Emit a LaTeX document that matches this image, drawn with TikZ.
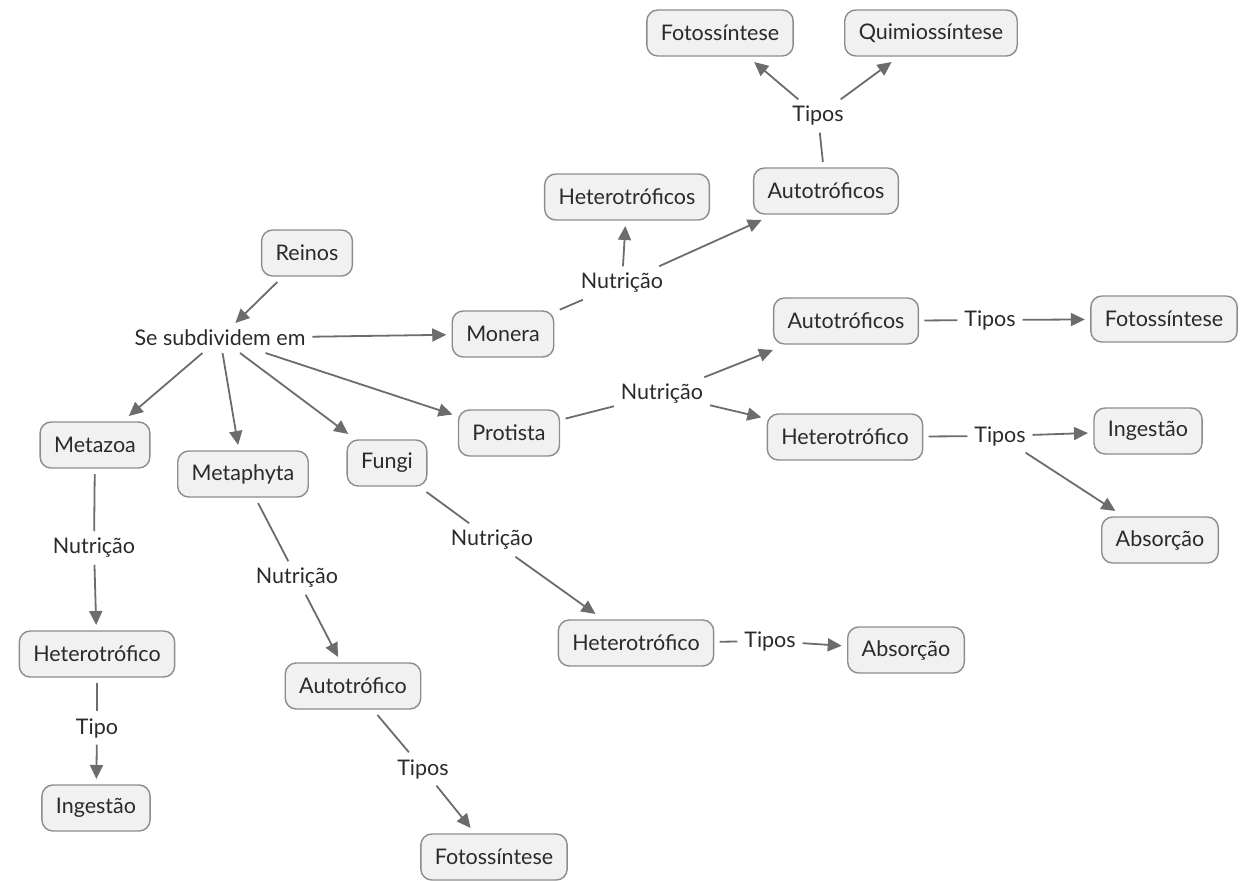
\documentclass[tikz,border=0pt]{standalone}
\usepackage{fontspec}
\setmainfont{Lato}
\usetikzlibrary{arrows.meta}
\definecolor{boxfill}{HTML}{F1F1F1}
\definecolor{boxline}{HTML}{8C8C8C}
\definecolor{conn}{HTML}{6C6C6C}
\definecolor{txt}{HTML}{2A2A2A}
\tikzset{
  concept/.style={draw=boxline, line width=1.4pt, fill=boxfill, rounded corners=11pt,
    minimum height=46pt, inner xsep=14pt, text=txt, font=\fontsize{21.5}{24}\selectfont, outer sep=6pt},
  lbl/.style={text=txt, font=\fontsize{21.5}{24}\selectfont, inner sep=2pt, outer sep=5pt},
  ln/.style={draw=conn, line width=1.8pt},
  ar/.style={draw=conn, line width=1.8pt, -{Triangle[length=14pt,width=13pt]}, fill=conn},
}
\begin{document}
\begin{tikzpicture}[x=1pt,y=-1pt]
\useasboundingbox (0,0) rectangle (1246,880);
% concepts
\node[concept] (fot1) at (720,33) {Fotossíntese};
\node[concept] (qui) at (931,33) {Quimiossíntese};
\node[concept] (aut1) at (826,191) {Autotróficos};
\node[concept] (het1) at (627,197) {Heterotróficos};
\node[concept] (rei) at (307,253) {Reinos};
\node[concept] (mon) at (503,334) {Monera};
\node[concept] (pro) at (509,433) {Protista};
\node[concept] (aut2) at (846,321) {Autotróficos};
\node[concept] (fot2) at (1164,319) {Fotossíntese};
\node[concept] (het2) at (845,437) {Heterotrófico};
\node[concept] (ing2) at (1148,431) {Ingestão};
\node[concept] (abs2) at (1160,540) {Absorção};
\node[concept] (meta) at (95,445) {Metazoa};
\node[concept] (metp) at (243,474) {Metaphyta};
\node[concept] (fun) at (387,463) {Fungi};
\node[concept] (het3) at (97,654) {Heterotrófico};
\node[concept] (ing3) at (96,808) {Ingestão};
\node[concept] (aut4) at (353,686) {Autotrófico};
\node[concept] (fot4) at (494,857) {Fotossíntese};
\node[concept] (het5) at (636,643) {Heterotrófico};
\node[concept] (abs5) at (906,650) {Absorção};
% labels
\node[lbl] (sub) at (220,338) {Se subdividem em};
\node[lbl] (t1) at (818,116) {Tipos};
\node[lbl] (n1) at (622,283) {Nutrição};
\node[lbl] (n2) at (662,394) {Nutrição};
\node[lbl] (t2) at (990,320) {Tipos};
\node[lbl] (t3) at (1000,436) {Tipos};
\node[lbl] (n3) at (94,548) {Nutrição};
\node[lbl] (t4) at (97,728) {Tipo};
\node[lbl] (n4) at (297,578) {Nutrição};
\node[lbl] (t5) at (423,769) {Tipos};
\node[lbl] (n5) at (492,540) {Nutrição};
\node[lbl] (t6) at (770,641) {Tipos};
% connectors
\draw[ar] (rei) -- (sub);
\draw[ar] (sub) -- (mon);
\draw[ar] (sub) -- (pro);
\draw[ar] (sub) -- (fun);
\draw[ar] (sub) -- (metp);
\draw[ar] (sub) -- (meta);
\draw[ln] (mon) -- (n1);
\draw[ar] (n1) -- (het1);
\draw[ar] (n1) -- (aut1);
\draw[ln] (aut1) -- (t1);
\draw[ar] (t1) -- (fot1);
\draw[ar] (t1) -- (qui);
\draw[ln] (pro) -- (n2);
\draw[ar] (n2) -- (aut2);
\draw[ar] (n2) -- (het2);
\draw[ln] (aut2) -- (t2);
\draw[ar] (t2) -- (fot2);
\draw[ln] (het2) -- (t3);
\draw[ar] (t3) -- (ing2);
\draw[ar] (t3) -- (abs2);
\draw[ln] (meta) -- (n3);
\draw[ar] (n3) -- (het3);
\draw[ln] (het3) -- (t4);
\draw[ar] (t4) -- (ing3);
\draw[ln] (metp) -- (n4);
\draw[ar] (n4) -- (aut4);
\draw[ln] (aut4) -- (t5);
\draw[ar] (t5) -- (fot4);
\draw[ln] (fun) -- (n5);
\draw[ar] (n5) -- (het5);
\draw[ln] (het5) -- (t6);
\draw[ar] (t6) -- (abs5);
\end{tikzpicture}
\end{document}
